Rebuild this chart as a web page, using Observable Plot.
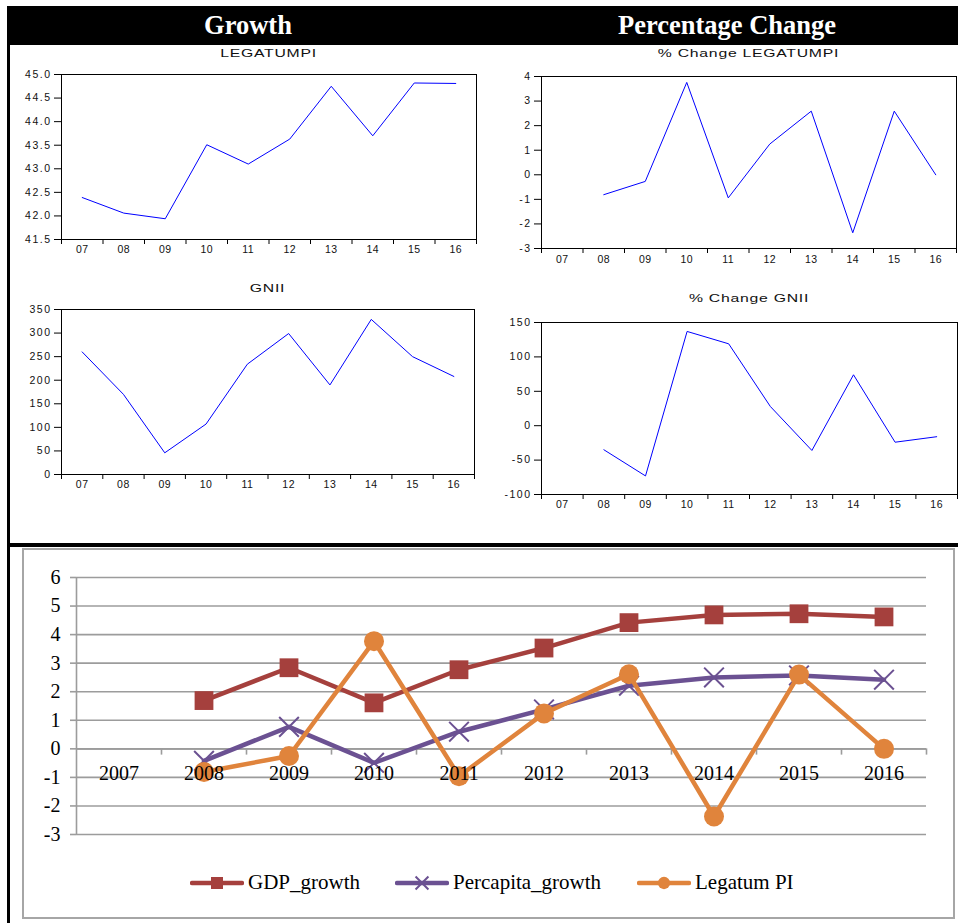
<!DOCTYPE html>
<html>
<head>
<meta charset="utf-8">
<script src="https://cdn.jsdelivr.net/npm/d3@7"></script>
<script src="https://cdn.jsdelivr.net/npm/@observablehq/plot@0.6"></script>
<style>
  html, body { margin: 0; padding: 0; background: #fff; }
  #root { position: relative; width: 958px; height: 923px; overflow: hidden; background: #fff; }
  .hdr { position: absolute; top: 6px; height: 39px; line-height: 39px; color: #fff; font-family: "Liberation Serif", "Times New Roman", serif; font-weight: bold; font-size: 26.5px; text-align: center; }
  .ttl { position: absolute; font-family: "Liberation Sans", Arial, sans-serif; font-size: 10.5px; letter-spacing: 0.5px; color: #111; text-align: center; white-space: nowrap; transform: scaleX(1.5); transform-origin: center; }
  .top g[aria-label="y-axis tick label"] text { letter-spacing: 1.5px; }
  .top g[aria-label="x-axis tick label"] text { letter-spacing: 0.5px; }
  .leg { position: absolute; font-family: "Liberation Serif", "Times New Roman", serif; font-size: 21px; color: #000; white-space: nowrap; }
</style>
</head>
<body>
<div id="root"></div>
<script>
// ---------- data ----------
const years = [2007, 2008, 2009, 2010, 2011, 2012, 2013, 2014, 2015, 2016];
const shortLabels = ["07", "08", "09", "10", "11", "12", "13", "14", "15", "16"];
const legatumPI = [42.39, 42.06, 41.94, 43.51, 43.10, 43.63, 44.75, 43.70, 44.82, 44.81];
const legatumPct = [null, -0.81, -0.27, 3.76, -0.94, 1.25, 2.59, -2.36, 2.59, 0.0];
const gnii = [260, 170, 46, 107, 234, 299, 190, 329, 250, 208];
const gniiPct = [null, -35, -73, 137, 119, 28, -36, 74, -24, -16];
const gdpGrowth = [null, 1.69, 2.84, 1.61, 2.77, 3.53, 4.42, 4.69, 4.73, 4.62];
const percapitaGrowth = [null, -0.42, 0.77, -0.49, 0.60, 1.38, 2.21, 2.50, 2.57, 2.42];
const legatumBottom = [null, -0.81, -0.25, 3.77, -0.96, 1.24, 2.61, -2.37, 2.60, 0.0];
const seriesNames = ["GDP_growth", "Percapita_growth", "Legatum PI"];
const seriesColors = ["#A5403D", "#6B5192", "#E0843C"];

const legTicks = [41.5, 42.0, 42.5, 43.0, 43.5, 44.0, 44.5, 45.0];
const legPctTicks = [-3, -2, -1, 0, 1, 2, 3, 4];
const gniiTicks = [0, 50, 100, 150, 200, 250, 300, 350];
const gniiPctTicks = [-100, -50, 0, 50, 100, 150];
const bottomTicks = [-3, -2, -1, 0, 1, 2, 3, 4, 5, 6];

// ---------- layout helpers ----------
const root = document.getElementById("root");
function place(node, left, top) {
  node.style.position = "absolute";
  node.style.left = left + "px";
  node.style.top = top + "px";
  root.appendChild(node);
  return node;
}
function div(cls, left, top, width, text) {
  const d = document.createElement("div");
  d.className = cls;
  d.style.left = left + "px";
  d.style.top = top + "px";
  if (width != null) d.style.width = width + "px";
  d.textContent = text;
  root.appendChild(d);
  return d;
}
function block(left, top, w, h, color) {
  const d = document.createElement("div");
  Object.assign(d.style, {position: "absolute", left: left + "px", top: top + "px", width: w + "px", height: h + "px", background: color});
  root.appendChild(d);
  return d;
}

const boundaries = years.map(y => y - 0.5).concat([years[years.length - 1] + 0.5]);
const fmtShort = d => shortLabels[years.indexOf(d)];
const hyphen = f => d => f(d).replace("\u2212", "-");

function topPlot({values, yDomain, yTicks, yFormat, width, height, ml, mr, mt, mb, pad}) {
  const data = years.map((y, i) => ({year: y, value: values[i]}));
  return Plot.plot({
    className: "top",
    width, height,
    marginLeft: ml, marginRight: mr, marginTop: mt, marginBottom: mb,
    x: {domain: [boundaries[0], boundaries[boundaries.length - 1]], axis: null},
    y: {domain: yDomain, axis: null},
    style: {fontFamily: "'Liberation Sans', Arial, sans-serif", fontSize: "10.5px", color: "#111", background: "transparent", overflow: "visible"},
    marks: [
      Plot.axisY({ticks: yTicks, tickSize: 7, tickPadding: 3, tickFormat: yFormat, label: null, stroke: "#000"}),
      Plot.axisX({ticks: boundaries, tickSize: 5, tickFormat: () => "", label: null, stroke: "#000"}),
      Plot.axisX({ticks: years, tickSize: 0, tickPadding: pad, tickFormat: fmtShort, label: null}),
      Plot.frame({stroke: "#000", strokeWidth: 1}),
      Plot.line(data, {x: "year", y: "value", stroke: "#0000FF", strokeWidth: 1})
    ]
  });
}

// ---------- frame / headers ----------
block(7, 6, 951, 39, "#000");
div("hdr", 7, 6, 482, "Growth");
div("hdr", 489, 6, 476, "Percentage Change");
block(7, 6, 3, 917, "#000");
block(7, 543, 951, 4, "#000");
const gb = document.createElement("div");
Object.assign(gb.style, {position: "absolute", left: "22px", top: "548px", width: "929px", height: "367px", border: "2px solid #A6A6A6"});
root.appendChild(gb);

// ---------- top small charts ----------
const intFmt = hyphen(d3.format("d"));
place(topPlot({values: legatumPI, yDomain: [41.5, 45], yTicks: legTicks, yFormat: d3.format(".1f"),
  width: 470, height: 220, ml: 51, mr: 4, mt: 29, mb: 26, pad: 6}), 10, 45);
div("ttl", 61, 47, 415, "LEGATUMPI");

place(topPlot({values: legatumPct, yDomain: [-3, 4], yTicks: legPctTicks, yFormat: intFmt,
  width: 478, height: 225, ml: 61, mr: 2, mt: 31, mb: 22, pad: 7}), 480, 45);
div("ttl", 541, 47, 415, "% Change LEGATUMPI");

place(topPlot({values: gnii, yDomain: [0, 350], yTicks: gniiTicks, yFormat: intFmt,
  width: 470, height: 230, ml: 51, mr: 6, mt: 39, mb: 26, pad: 6}), 10, 270);
div("ttl", 61, 282, 413, "GNII");

place(topPlot({values: gniiPct, yDomain: [-100, 150], yTicks: gniiPctTicks, yFormat: intFmt,
  width: 478, height: 260, ml: 61, mr: 1, mt: 52, mb: 36, pad: 6}), 480, 270);
div("ttl", 541, 292, 416, "% Change GNII");

// ---------- bottom combined chart ----------
const bottomSeries = [gdpGrowth, percapitaGrowth, legatumBottom];
const bottomData = bottomSeries.flatMap((vals, s) => years.map((y, i) => ({series: seriesNames[s], year: y, value: vals[i]})));
const bySeries = name => bottomData.filter(d => d.series === name);
const grid = "#9C9C9C";

const bottom = Plot.plot({
  width: 928, height: 300,
  marginLeft: 52, marginRight: 26, marginTop: 27, marginBottom: 16,
  x: {domain: [boundaries[0], boundaries[boundaries.length - 1]], axis: null},
  y: {domain: [-3, 6], axis: null},
  style: {fontFamily: "'Liberation Serif', 'Times New Roman', serif", fontSize: "20px", color: "#000", background: "transparent", overflow: "visible"},
  marks: [
    Plot.gridY({ticks: bottomTicks, stroke: grid, strokeOpacity: 1, strokeWidth: 1.6}),
    Plot.axisY({ticks: bottomTicks, tickSize: 6, tickPadding: 10, tickFormat: intFmt, label: null, stroke: grid, strokeWidth: 1.6, fontSize: 20}),
    Plot.ruleX([boundaries[0]], {stroke: grid, strokeWidth: 1.6}),
    Plot.ruleY([0], {stroke: grid, strokeWidth: 1.6}),
    Plot.ruleX(boundaries.slice(1), {y1: 0, y2: -0.22, stroke: grid, strokeWidth: 1.6}),
    Plot.line(bySeries(seriesNames[0]), {x: "year", y: "value", stroke: seriesColors[0], strokeWidth: 4.5}),
    Plot.dot(bySeries(seriesNames[0]).filter(d => d.value != null), {x: "year", y: "value", symbol: "square", r: 10.6, fill: seriesColors[0]}),
    Plot.line(bySeries(seriesNames[1]), {x: "year", y: "value", stroke: seriesColors[1], strokeWidth: 4.5}),
    Plot.dot(bySeries(seriesNames[1]).filter(d => d.value != null), {x: "year", y: "value", symbol: "times", r: 9, stroke: seriesColors[1], strokeWidth: 2}),
    Plot.line(bySeries(seriesNames[2]), {x: "year", y: "value", stroke: seriesColors[2], strokeWidth: 4.5}),
    Plot.dot(bySeries(seriesNames[2]).filter(d => d.value != null), {x: "year", y: "value", symbol: "circle", r: 10, fill: seriesColors[2]}),
    Plot.text(years, {x: d => d, y: () => 0, dy: 25, text: d => String(d), fontSize: 20, fill: "#000"})
  ]
});
place(bottom, 24, 550);

// ---------- legend ----------
const legendX = [190, 395, 637];
const legendSymbols = ["square", "times", "circle"];
seriesNames.forEach((name, i) => {
  const svg = d3.create("svg").attr("width", 54).attr("height", 20).style("position", "absolute")
    .style("left", legendX[i] + "px").style("top", "873px");
  svg.append("line").attr("x1", 2).attr("x2", 52).attr("y1", 10).attr("y2", 10)
    .attr("stroke", seriesColors[i]).attr("stroke-width", 4.5).attr("stroke-linecap", "round");
  const sym = {square: d3.symbolSquare, times: d3.symbolTimes, circle: d3.symbolCircle}[legendSymbols[i]];
  const size = legendSymbols[i] === "times" ? 110 : (legendSymbols[i] === "square" ? 144 : 120);
  const p = svg.append("path").attr("transform", "translate(27,10)").attr("d", d3.symbol(sym, size)());
  if (legendSymbols[i] === "times") p.attr("fill", "none").attr("stroke", seriesColors[i]).attr("stroke-width", 2);
  else p.attr("fill", seriesColors[i]);
  root.appendChild(svg.node());
  div("leg", legendX[i] + 58, 870, null, name);
});
</script>
</body>
</html>
